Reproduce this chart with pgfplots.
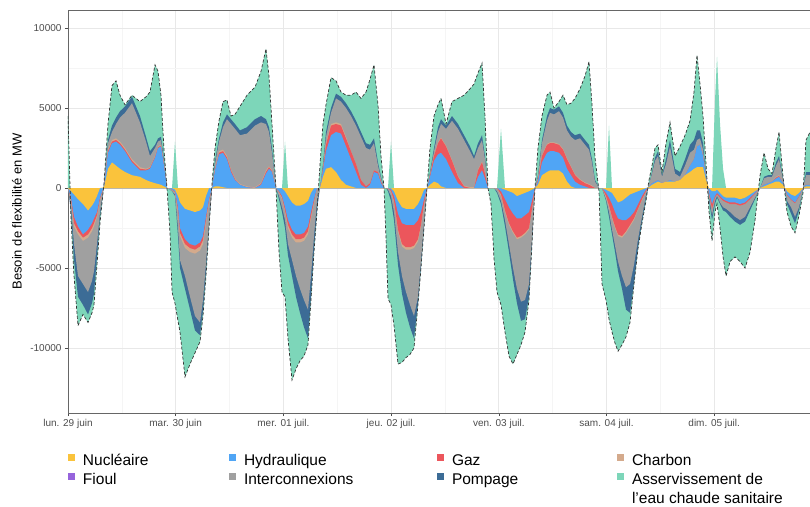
\documentclass[border=0pt]{standalone}
\usepackage{fontspec}
\setmainfont{Liberation Sans}
\usepackage{pgfplots}
\usepackage{pgfplotstable}
\pgfplotsset{compat=1.18}
\definecolor{nuc}{RGB}{250,195,60}
\definecolor{hyd}{RGB}{80,165,245}
\definecolor{gaz}{RGB}{236,86,92}
\definecolor{cha}{RGB}{212,170,140}
\definecolor{fio}{RGB}{150,100,220}
\definecolor{int}{RGB}{160,160,160}
\definecolor{pom}{RGB}{60,108,150}
\definecolor{ecs}{RGB}{125,214,185}
% h = hours since lun. 29 juin 00:00 ; cumulative stacks (MW)
% T total (ECS outer edge), S positive ECS spike, P pompage, I interconnexions, C charbon, G gaz, H hydraulique, N nucleaire
\pgfplotstableread{
h T S P I C G H N
0.00 4500 0 0 0 0 0 0 0
0.67 -2000 0 -1500 -1200 -800 -700 -600 -200
1.34 -5500 0 -4500 -3500 -2400 -2200 -1800 -400
2.23 -8600 0 -6800 -5500 -2900 -2700 -2400 -700
3.34 -7900 0 -7300 -6000 -3300 -3100 -2900 -1000
4.46 -8400 0 -7900 -6500 -3100 -2900 -2600 -1400
5.35 -7800 0 -7200 -5800 -2700 -2500 -2200 -1100
5.79 -7300 0 -6600 -5200 -2400 -2200 -1900 -900
6.46 -4800 0 -4300 -3500 -1800 -1700 -1500 -500
7.13 -2200 0 -1800 -1500 -800 -700 -600 0
8.02 300 0 200 150 100 100 100 50
8.91 4000 0 3000 2800 2400 2300 2200 1200
9.80 6400 0 3900 3500 3000 2900 2800 1600
10.70 6700 0 4400 4000 3100 3000 2900 1400
11.59 5800 0 4800 4400 2900 2800 2700 1200
12.70 5200 0 5100 4700 2500 2400 2300 1000
14.26 5800 0 5700 5300 1800 1700 1600 800
16.04 5400 0 4500 4100 1300 1200 1100 700
17.38 5700 0 3200 2900 1200 1150 1100 500
18.27 6000 0 2300 2000 1300 1250 1200 400
19.39 7700 0 2700 2500 2000 1950 1900 300
20.06 7300 0 3100 2900 2600 2550 2500 250
20.72 5800 0 3200 3000 2700 2650 2600 200
21.39 2400 0 1800 1600 1500 1450 1400 100
22.06 0 0 0 0 0 0 0 0
22.73 -2800 0 -100 -100 -50 -50 -50 0
23.18 -6500 0 -200 -200 -100 -100 -100 0
23.84 -7200 2900 -500 -400 -300 -250 -200 -100
24.51 -8300 0 -3000 -2500 -1600 -1400 -1200 -500
24.96 -9000 0 -5000 -4500 -3000 -2800 -2500 -900
26.07 -11800 0 -6300 -5500 -3750 -3500 -3200 -1300
27.19 -11000 0 -7600 -6800 -4000 -3750 -3500 -1400
28.30 -10300 0 -8900 -8000 -4100 -3850 -3600 -1500
29.42 -9600 0 -9200 -8400 -3900 -3650 -3400 -1400
30.08 -8000 0 -7700 -7000 -3500 -3250 -3000 -1200
30.75 -5500 0 -5200 -4700 -2200 -2000 -1800 -500
31.42 -2500 0 -2400 -2200 -900 -800 -700 0
32.09 300 0 0 0 0 0 0 0
32.76 2500 0 1700 1500 1200 1150 1100 100
33.65 4200 0 3100 2900 2300 2200 2100 100
34.54 5400 0 4100 3800 2400 2300 2200 50
35.43 5500 0 4600 4300 2000 1900 1800 0
36.32 4500 0 4300 4000 1150 1100 1000 0
37.21 4600 0 4000 3700 600 550 500 0
38.33 5100 0 3600 3300 250 200 200 0
39.89 5800 0 3800 3400 100 50 50 0
41.67 6300 0 4300 3900 50 0 0 0
43.01 7300 0 4500 4100 300 250 200 0
44.12 8700 0 4300 4000 1100 1000 900 0
44.79 7000 0 3800 3500 1350 1300 1200 0
45.46 4000 0 2500 2200 1100 1050 1000 0
46.35 0 0 0 0 0 0 0 0
47.02 -4000 0 -700 -500 -300 -250 -200 0
47.69 -6500 0 -1500 -1200 -700 -600 -500 0
48.36 -6800 2900 -2500 -2000 -1500 -1400 -1200 -200
49.02 -9400 0 -4200 -3500 -2500 -2300 -2000 -500
49.92 -12000 0 -5500 -4500 -3100 -2900 -2600 -900
50.81 -11300 0 -6800 -5500 -3400 -3200 -2900 -1100
51.70 -10800 0 -7800 -6300 -3400 -3200 -2900 -1100
52.59 -10500 0 -8700 -7000 -3300 -3100 -2800 -1000
53.48 -9800 0 -9400 -7600 -2900 -2700 -2400 -800
54.15 -7000 0 -6800 -5500 -1900 -1750 -1500 -300
54.82 -4000 0 -3800 -3000 -950 -850 -700 0
55.49 -1500 0 -1300 -800 0 0 0 0
56.16 1500 0 0 0 0 0 0 0
56.82 4000 0 1500 1300 1200 1150 1100 700
57.49 5200 0 3500 3200 2800 2700 2300 1200
58.61 6900 0 5000 4700 4000 3900 3300 1300
59.72 6700 0 5900 5600 4100 4000 3500 1000
60.83 6000 0 5700 5400 4000 3900 3400 500
61.95 5800 0 5300 5000 3200 3100 2600 200
63.06 5800 0 4800 4500 2300 2300 1800 100
64.18 6000 0 4200 3900 1500 1500 1000 0
65.29 5600 0 3500 3200 500 500 200 0
66.41 6000 0 2800 2500 100 100 0 0
67.30 6800 0 2700 2400 300 300 200 0
68.19 7700 0 3100 2800 1100 1100 1000 0
69.08 5200 0 1600 1400 1000 1000 900 0
69.75 2000 0 700 600 400 400 300 0
70.42 0 0 0 0 0 0 0 0
70.86 -3100 0 0 0 0 0 0 0
71.31 -6900 0 -200 -100 0 0 0 0
71.98 -7300 2900 -800 -500 -250 -200 -100 0
72.65 -8600 0 -2000 -1500 -900 -800 -500 -200
73.54 -11000 0 -4800 -4000 -2750 -2600 -1600 -800
74.43 -10900 0 -6600 -5500 -3650 -3500 -2200 -1200
75.32 -10600 0 -7800 -6500 -3850 -3700 -2300 -1300
76.21 -10400 0 -8700 -7300 -3850 -3700 -2300 -1300
77.10 -10000 0 -9400 -8000 -3750 -3600 -2300 -1300
77.99 -7300 0 -7200 -6800 -3350 -3200 -2000 -1000
78.66 -5000 0 -4900 -4600 -2400 -2300 -1500 -600
79.33 -2500 0 -2400 -2200 -1100 -1000 -700 -100
80.00 0 0 0 0 0 0 0 0
80.67 2500 0 1000 900 850 800 700 200
81.56 4500 0 2500 2300 2050 2000 1700 400
82.45 5200 0 3800 3500 2850 2800 2100 300
83.12 5600 0 4300 4000 3150 3100 2200 100
84.24 4000 0 3900 3700 2650 2600 1800 0
85.57 5400 0 4500 4200 1750 1700 1000 0
86.91 5600 0 4000 3700 750 700 300 0
88.25 5800 0 3300 3000 150 100 0 0
89.59 6200 0 2600 2300 50 0 0 0
90.48 6500 0 2000 1800 50 0 0 0
91.37 7200 0 2800 2500 1150 1100 700 0
92.26 7800 0 3300 3000 1650 1600 1100 0
92.92 4500 0 2000 1800 950 900 600 0
93.59 0 0 0 0 0 0 0 0
94.26 -1000 0 0 0 0 0 0 0
94.93 -4400 0 0 0 0 0 0 0
95.60 -6500 0 -300 -200 0 0 0 0
96.49 -7300 3700 -1000 -800 -500 -400 -200 0
97.38 -9000 0 -2400 -2000 -1500 -1400 -700 -100
98.27 -10500 0 -4000 -3500 -2300 -2200 -1200 -200
99.16 -11000 0 -5700 -5000 -2800 -2700 -1600 -300
100.05 -10400 0 -7200 -6300 -3200 -3100 -1900 -500
100.95 -9800 0 -8300 -7100 -3100 -3000 -1900 -400
101.84 -9000 0 -8200 -7000 -2900 -2800 -1700 -300
102.73 -7000 0 -6800 -6000 -2600 -2500 -1500 -200
103.39 -3500 0 -3400 -3200 -1350 -1300 -800 -100
104.06 0 0 0 0 0 0 0 0
104.73 2500 0 800 700 550 500 400 200
105.62 4500 0 3000 2800 2050 2000 1600 800
106.74 5800 0 4500 4200 2750 2700 2200 1000
107.41 6000 0 5000 4700 2850 2800 2300 1100
108.30 5000 0 4900 4600 2850 2800 2300 1100
109.41 5400 0 5100 4800 2750 2700 2200 1100
110.31 5800 0 4700 4400 2450 2400 1900 900
111.20 5200 0 3900 3600 1850 1800 1200 400
112.09 5300 0 3500 3200 1350 1300 800 100
112.98 5600 0 3300 3000 850 800 400 0
114.10 6200 0 3400 3100 550 500 200 0
115.21 7000 0 3000 2700 350 300 100 0
116.10 7900 0 2700 2400 250 200 0 0
116.77 5200 0 1800 1600 150 100 0 0
117.44 1900 0 500 400 0 0 0 0
118.33 -200 0 0 0 0 0 0 0
119.00 -6000 0 0 0 0 0 0 0
119.89 -7000 0 -800 -700 -600 -500 -300 -100
120.56 -8200 3900 -1800 -1500 -1200 -1100 -600 -200
121.23 -9000 0 -2900 -2600 -1900 -1800 -1000 -300
121.90 -9700 0 -4000 -3600 -2500 -2400 -1500 -600
122.57 -10200 0 -5200 -4600 -3000 -2900 -1900 -900
123.46 -9800 0 -6300 -5500 -3100 -3000 -2000 -800
124.35 -9300 0 -7600 -6200 -2800 -2700 -2000 -600
125.24 -8400 0 -7800 -6000 -2400 -2300 -1800 -400
126.13 -6000 0 -5900 -4800 -2000 -1900 -1500 -300
127.02 -3800 0 -3700 -3200 -1350 -1300 -1000 -200
127.91 -2200 0 -2100 -1800 -750 -700 -500 -100
128.80 -800 0 -600 -400 -200 -200 -100 0
129.47 500 0 200 200 100 100 100 50
130.14 1400 0 1000 900 300 300 300 200
130.81 2500 0 1900 1700 400 400 400 300
131.48 2700 0 2300 2000 500 500 500 400
132.37 1000 0 800 700 300 300 300 300
133.26 2800 0 1800 1500 400 400 400 400
134.15 4100 0 3000 2600 500 500 500 400
135.27 2000 0 1200 900 400 400 400 400
136.38 2600 0 1000 700 500 500 500 500
137.50 3300 0 1800 1400 800 800 800 800
138.61 4200 0 2700 2200 1400 1400 1400 1000
139.50 6000 0 3000 2400 1800 1800 1800 1200
140.17 8300 0 3600 3000 2600 2600 2600 1300
140.84 6500 0 3600 3100 2700 2700 2700 1300
141.51 4500 0 2800 2400 2000 2000 2000 1300
142.18 1500 0 900 800 700 700 700 500
142.85 -1500 0 -800 -600 -400 -400 -300 0
143.52 -3300 0 -2000 -1700 -1300 -1300 -1000 -200
144.18 -1500 5500 -1000 -800 -600 -600 -500 -200
144.63 -1000 8200 -600 -500 -400 -400 -300 -100
145.30 -2500 4000 -1000 -900 -600 -600 -500 -300
145.97 -4300 1200 -1400 -1200 -800 -800 -700 -500
146.64 -5500 0 -1500 -1300 -900 -900 -800 -600
147.53 -4600 0 -1800 -1500 -1000 -1000 -900 -600
148.64 -4300 0 -2100 -1800 -1000 -1000 -900 -600
149.76 -4600 0 -2300 -2000 -1100 -1100 -1000 -700
150.87 -5000 0 -2100 -1800 -1000 -1000 -900 -600
151.99 -4000 0 -1400 -1200 -700 -700 -600 -400
153.10 -2000 0 -700 -600 -350 -350 -300 -200
154.22 800 0 0 0 0 0 0 0
155.11 2200 0 700 600 200 200 200 100
156.00 1200 0 800 700 300 300 300 200
156.88 900 0 800 700 400 400 400 300
157.78 2500 0 1600 1400 700 650 600 400
158.45 3500 0 2000 1800 800 750 700 400
159.34 700 0 600 500 300 300 300 200
160.23 -1500 0 -1000 -800 -450 -450 -400 -200
161.12 -2400 0 -1600 -1200 -750 -750 -700 -400
162.01 -2800 0 -2200 -1800 -950 -950 -900 -500
162.91 -1700 0 -1400 -1200 -550 -550 -500 -300
163.80 -300 0 0 0 0 0 0 0
164.46 3000 0 1000 800 200 200 200 100
165.35 3500 0 1000 800 200 200 200 100
}\data
\begin{document}
\begin{tikzpicture}
\begin{axis}[
  scale only axis, width=742pt, height=403pt,
  xmin=0, xmax=165.35, ymin=-14060, ymax=11125,
  scaled x ticks=false, scaled y ticks=false,
  xtick={0,24,48,72,96,120,144},
  xticklabels={lun. 29 juin, mar. 30 juin, mer. 01 juil., jeu. 02 juil., ven. 03 juil., sam. 04 juil., dim. 05 juil.},
  ytick={-10000,-5000,0,5000,10000},
  yticklabels={-10000,-5000,0,5000,10000},
  minor x tick num=1, minor y tick num=1,
  grid=both,
  major grid style={draw=black!9, line width=0.7pt},
  minor grid style={draw=black!4, line width=0.5pt},
  tick align=outside, xtick pos=left, ytick pos=left,
  major tick length=3pt, minor tick length=0pt,
  tick style={black!70, line width=0.6pt},
  axis line style={black!60, line width=0.9pt},
  ticklabel style={font=\fontsize{10}{12}\selectfont, text=black!70},
  ylabel={Besoin de flexibilité en MW},
  ylabel style={font=\fontsize{13}{15}\selectfont, at={(axis description cs:-0.0687,0.5)}, anchor=center},
  legend columns=4,
  legend cell align=left,
  legend style={at={(axis description cs:0,0)}, anchor=north west, xshift=0pt, yshift=-41pt,
    draw=none, fill=none, inner sep=0pt, outer sep=0pt,
    font=\fontsize{15.5}{18.5}\selectfont,
    nodes={inner sep=0pt, text height=11pt, text depth=3.5pt},
    row sep=3.5pt,
    /tikz/every odd column/.append style={column sep=8pt}},
  legend image code/.code={\path[#1, draw=none] (0pt,1pt) rectangle (7pt,8pt);},
]
\addlegendimage{fill=nuc}\addlegendentry{\makebox[146pt][l]{Nucléaire}}
\addlegendimage{fill=hyd}\addlegendentry{\makebox[193pt][l]{Hydraulique}}
\addlegendimage{fill=gaz}\addlegendentry{\makebox[165pt][l]{Gaz}}
\addlegendimage{fill=cha}\addlegendentry{Charbon}
\addlegendimage{fill=fio}\addlegendentry{Fioul}
\addlegendimage{fill=int}\addlegendentry{Interconnexions}
\addlegendimage{fill=pom}\addlegendentry{Pompage}
\addlegendimage{fill=ecs}\addlegendentry{{\begin{tabular}[t]{@{}l@{}}Asservissement de\\l'eau chaude sanitaire\end{tabular}}}

\addplot[fill=ecs, draw=none, forget plot] table[x=h, y=T]{\data} \closedcycle;
\addplot[fill=ecs, draw=none, forget plot] table[x=h, y=S]{\data} \closedcycle;
\addplot[fill=pom, draw=none, forget plot] table[x=h, y=P]{\data} \closedcycle;
\addplot[fill=int, draw=none, forget plot] table[x=h, y=I]{\data} \closedcycle;
\addplot[fill=cha, draw=none, forget plot] table[x=h, y=C]{\data} \closedcycle;
\addplot[fill=gaz, draw=none, forget plot] table[x=h, y=G]{\data} \closedcycle;
\addplot[fill=hyd, draw=none, forget plot] table[x=h, y=H]{\data} \closedcycle;
\addplot[fill=nuc, draw=none, forget plot] table[x=h, y=N]{\data} \closedcycle;
\addplot[draw=black!80, line width=0.7pt, dash pattern=on 3pt off 2pt, forget plot] table[x=h, y=T]{\data};
\end{axis}
\pgfresetboundingbox
\path (-68pt,-93pt) rectangle (742pt,413pt);
\end{tikzpicture}
\end{document}
